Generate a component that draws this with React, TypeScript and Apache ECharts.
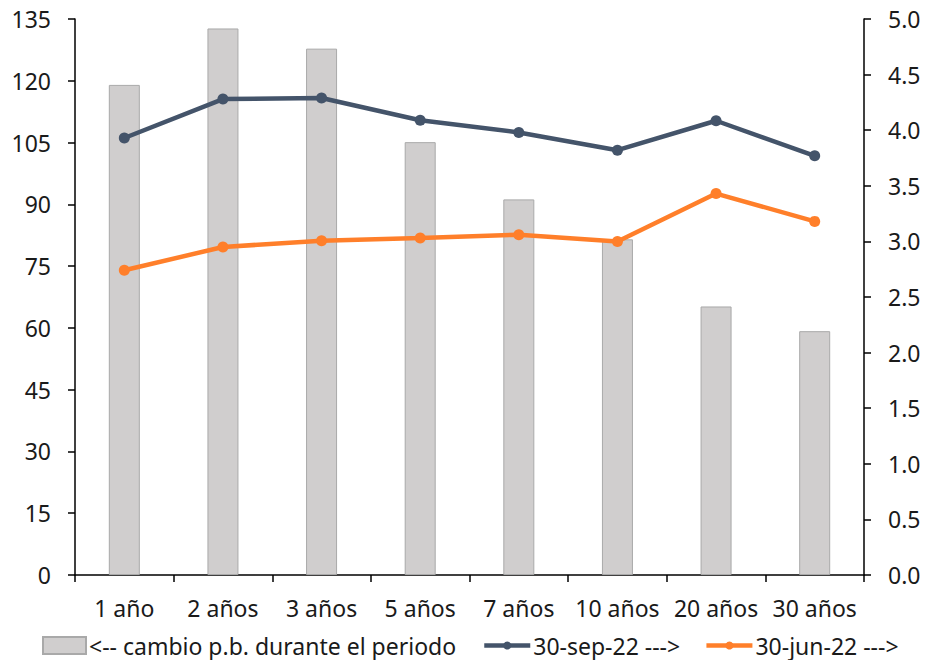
import React, { useEffect, useRef } from "react";
import * as echarts from "echarts";

const categories = ["1 año", "2 años", "3 años", "5 años", "7 años", "10 años", "20 años", "30 años"];
const cambioPb = [119, 132.7, 127.8, 105.1, 91.2, 81.5, 65.2, 59.2];
const sep22 = [3.93, 4.28, 4.29, 4.09, 3.98, 3.82, 4.085, 3.77];
const jun22 = [2.74, 2.95, 3.006, 3.03, 3.06, 3.0, 3.43, 3.18];

const seriesNames = ["<-- cambio p.b. durante el periodo", "30-sep-22 --->", "30-jun-22 --->"];

const FONT = "'Noto Sans', sans-serif";
const TEXT = "#1a1a1a";
const SIZE = 23;
const NAVY = "#44546a";
const ORANGE = "#ff7f2a";

export default function App() {
  const ref = useRef<HTMLDivElement>(null);

  useEffect(() => {
    if (!ref.current) return;
    const chart = echarts.init(ref.current, null, { renderer: "svg" });
    const axisLine = { show: true, lineStyle: { color: "#000", width: 1.5 } };
    const axisTick = { show: true, inside: false, length: 7, lineStyle: { color: "#000", width: 1.5 } };
    const legendText = { fontFamily: FONT, fontSize: SIZE, color: TEXT, padding: [0, 0, 0, -2] };
    chart.setOption({
      animation: false,
      textStyle: { fontFamily: FONT, color: TEXT },
      grid: { left: 75, right: 61, top: 19, bottom: 85, containLabel: false },
      legend: [
        {
          left: 37,
          top: 629,
          itemWidth: 43,
          itemHeight: 17,
          textStyle: legendText,
          data: [{ name: seriesNames[0], icon: "rect" }],
        },
        {
          left: 477,
          top: 629,
          itemGap: 24,
          itemWidth: 46,
          itemHeight: 10,
          textStyle: legendText,
          lineStyle: { width: 4.5 },
          data: [{ name: seriesNames[1] }, { name: seriesNames[2] }],
        },
      ],
      xAxis: {
        type: "category",
        data: categories,
        boundaryGap: true,
        axisLine,
        axisTick,
        axisLabel: { fontFamily: FONT, fontSize: SIZE, color: TEXT, margin: 21, interval: 0 },
      },
      yAxis: [
        {
          type: "value",
          min: 0,
          max: 135,
          interval: 15,
          position: "left",
          axisLine,
          axisTick,
          splitLine: { show: false },
          axisLabel: { fontFamily: FONT, fontSize: SIZE, color: TEXT, margin: 24 },
        },
        {
          type: "value",
          min: 0,
          max: 5,
          interval: 0.5,
          position: "right",
          axisLine,
          axisTick,
          splitLine: { show: false },
          axisLabel: {
            fontFamily: FONT,
            fontSize: SIZE,
            color: TEXT,
            margin: 24,
            formatter: (v: number) => v.toFixed(1),
          },
        },
      ],
      series: [
        {
          name: seriesNames[0],
          type: "bar",
          yAxisIndex: 0,
          data: cambioPb,
          barWidth: 31,
          itemStyle: { color: "#d0cece", borderColor: "#a9a9a9", borderWidth: 1 },
        },
        {
          name: seriesNames[1],
          type: "line",
          yAxisIndex: 1,
          data: sep22,
          symbol: "circle",
          symbolSize: 11,
          lineStyle: { color: NAVY, width: 4.5 },
          itemStyle: { color: NAVY },
          z: 3,
        },
        {
          name: seriesNames[2],
          type: "line",
          yAxisIndex: 1,
          data: jun22,
          symbol: "circle",
          symbolSize: 11,
          lineStyle: { color: ORANGE, width: 4.5 },
          itemStyle: { color: ORANGE },
          z: 4,
        },
      ],
    });
    return () => chart.dispose();
  }, []);

  return (
    <div
      ref={ref}
      style={{ position: "fixed", left: 0, top: 0, width: 925, height: 660, background: "#fff" }}
    />
  );
}
